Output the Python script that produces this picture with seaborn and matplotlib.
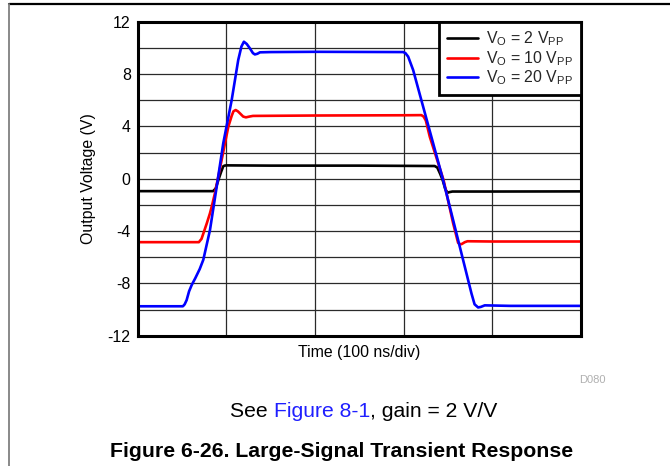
import numpy as np
import pandas as pd
import matplotlib
matplotlib.use("Agg")
import matplotlib.pyplot as plt
from matplotlib.lines import Line2D
import seaborn as sns

# Large-signal transient response (time in divisions, 100 ns/div)
t_2vpp = [0, 0.85, 0.88, 0.91, 0.94, 0.965, 0.98, 1.0, 1.5, 2.5, 3.35, 3.38, 3.41, 3.44, 3.47,
          3.495, 3.52, 3.55, 4.0, 5.0]
v_2vpp = [-0.95, -0.95, -0.75, -0.1, 0.5, 0.95, 1.0, 1.02, 1.0, 1.0, 0.97, 0.85, 0.4, -0.1, -0.8,
          -1.07, -1.02, -0.98, -0.98, -0.97]

t_10vpp = [0, 0.69, 0.72, 0.74, 0.78, 0.815, 0.84, 0.871, 0.947, 1.022, 1.06, 1.08, 1.105, 1.13,
           1.153, 1.19, 1.221, 1.26, 1.3, 2.0, 3.0, 3.2, 3.225, 3.25, 3.295, 3.45, 3.558, 3.614,
           3.635, 3.653, 3.69, 3.72, 4.0, 5.0]
v_10vpp = [-4.85, -4.85, -4.6, -4.2, -3.4, -2.65, -2.0, -1.12, 1.43, 3.97, 4.8, 5.15, 5.25, 5.15,
           5.0, 4.75, 4.69, 4.75, 4.8, 4.83, 4.85, 4.86, 4.75, 4.45, 3.2, -0.1, -3.4, -4.9,
           -5.0, -5.0, -4.85, -4.78, -4.8, -4.8]

t_20vpp = [0, 0.51, 0.53, 0.552, 0.58, 0.609, 0.65, 0.70, 0.74, 0.815, 0.891, 0.965, 1.06, 1.134,
           1.17, 1.198, 1.23, 1.266, 1.30, 1.322, 1.35, 1.379, 1.5, 2.0, 2.995, 3.02, 3.051, 3.107,
           3.22, 3.333, 3.445, 3.558, 3.671, 3.765, 3.80, 3.84, 3.87, 3.915, 4.2, 5.0]
v_20vpp = [-9.75, -9.75, -9.6, -9.28, -8.6, -8.13, -7.6, -6.9, -6.2, -3.94, -0.62, 2.7, 6.0, 9.07,
           10.1, 10.47, 10.3, 9.96, 9.6, 9.5, 9.55, 9.66, 9.68, 9.7, 9.68, 9.6, 9.33, 8.31,
           5.5, 2.7, -0.1, -3.16, -6.22, -8.77, -9.6, -9.84, -9.8, -9.68, -9.72, -9.72]

series_labels = [r"V$_{\mathregular{O}}$ = 2 V$_{\mathregular{PP}}$",
                 r"V$_{\mathregular{O}}$ = 10 V$_{\mathregular{PP}}$",
                 r"V$_{\mathregular{O}}$ = 20 V$_{\mathregular{PP}}$"]
series_colors = ["#000000", "#ff0000", "#0000ff"]

y_ticks = [-12, -10, -8, -6, -4, -2, 0, 2, 4, 6, 8, 10, 12]
y_ticklabels = ["-12", "", "-8", "", "-4", "", "0", "", "4", "", "8", "", "12"]
x_ticks = [0, 1, 2, 3, 4, 5]

df = pd.concat([
    pd.DataFrame({"t": t_2vpp, "v": v_2vpp, "series": series_labels[0]}),
    pd.DataFrame({"t": t_10vpp, "v": v_10vpp, "series": series_labels[1]}),
    pd.DataFrame({"t": t_20vpp, "v": v_20vpp, "series": series_labels[2]}),
])

sns.set_theme(style="white")
plt.rcParams["font.family"] = ["Liberation Sans", "DejaVu Sans"]
plt.rcParams["mathtext.default"] = "regular"

fig = plt.figure(figsize=(6.7, 4.66), dpi=100)
ax = fig.add_axes([0.2055, 0.2796, 0.6616, 0.6738])

sns.lineplot(data=df, x="t", y="v", hue="series", hue_order=series_labels,
             palette=series_colors, estimator=None, sort=False, linewidth=1.9, ax=ax)

ax.set_xlim(0, 5)
ax.set_ylim(-12, 12)
ax.set_xticks(x_ticks)
ax.set_xticklabels([""] * len(x_ticks))
ax.set_yticks(y_ticks)
ax.set_yticklabels(y_ticklabels)
ax.tick_params(length=0, labelsize=11.4, pad=5, colors="black")
ax.grid(True, color="#2a2a2a", linewidth=0.9)
for s in ax.spines.values():
    s.set_color("black")
    s.set_linewidth(2.2)

ax.set_xlabel("Time (100 ns/div)", fontsize=11.4, color="black")
ax.set_ylabel("Output Voltage (V)", fontsize=11.4, color="black")
ax.xaxis.set_label_coords(0.5, -0.03)
ax.yaxis.set_label_coords(-0.095, 0.5)

old = ax.get_legend()
handles = old.legend_handles
labels = [t.get_text() for t in old.texts]
for h in handles:
    h.set_linewidth(1.9)
leg = ax.legend(handles, labels, loc="upper right", borderaxespad=0, fancybox=False,
                framealpha=1, edgecolor="black", fontsize=11.4, handlelength=1.95,
                handletextpad=0.5, labelspacing=0.05, borderpad=0.5)
leg.get_frame().set_linewidth(2.0)

# page decorations
fig.add_artist(Line2D([9 / 670, 1], [1 - 4.3 / 466] * 2, color="black", lw=1.6,
                      transform=fig.transFigure))
fig.add_artist(Line2D([8.5 / 670] * 2, [0, 1 - 4.3 / 466], color="#808080", lw=1.3,
                      transform=fig.transFigure))

fig.text(606 / 670, 1 - 380 / 466, "D080", ha="right", va="center", fontsize=8, color="#b0b0b0")

# caption with blue link text
renderer = fig.canvas.get_renderer()
x0 = 230 / 670
yb = 1 - 416.7 / 466
for piece, col in [("See ", "black"), ("Figure 8-1", "#1f1fff"), (", gain = 2 V/V", "black")]:
    txt = fig.text(x0, yb, piece, ha="left", va="baseline", fontsize=15.2, color=col)
    bb = txt.get_window_extent(renderer=renderer)
    x0 = bb.x1 / fig.bbox.width

fig.text(341.5 / 670, 1 - 456.7 / 466, "Figure 6-26. Large-Signal Transient Response",
         ha="center", va="baseline", fontsize=15.3, fontweight="bold", color="black")

fig.savefig("out.png", dpi=100)
